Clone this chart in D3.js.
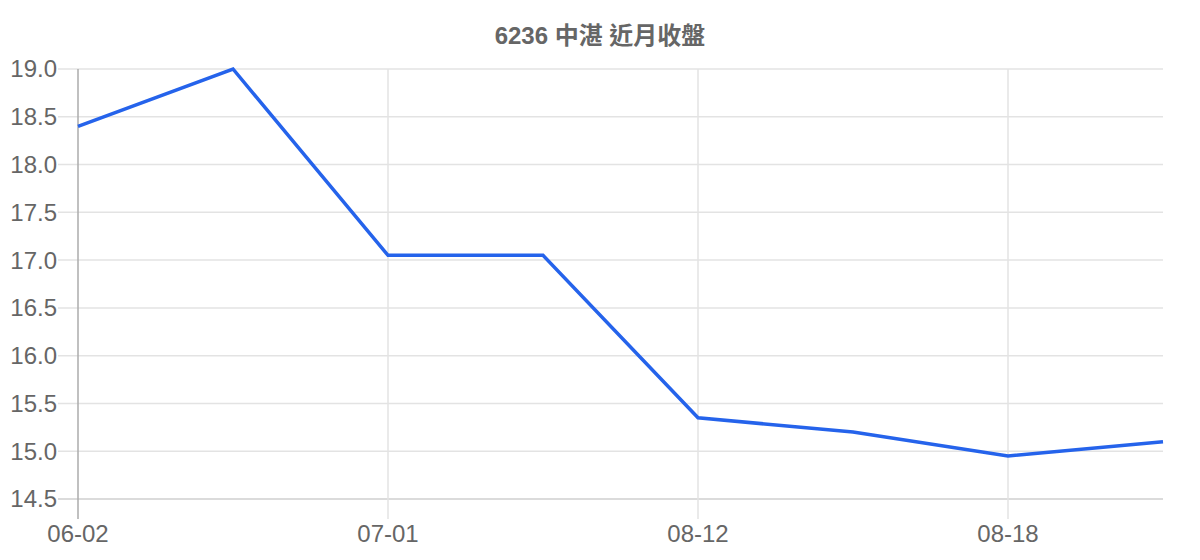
<!DOCTYPE html>
<html>
<head>
<meta charset="utf-8">
<script src="https://cdn.jsdelivr.net/npm/d3@7"></script>
<style>
  body { margin: 0; background: #fff; }
  text { font-family: "Liberation Sans", Arial, "Noto Sans CJK TC", sans-serif; }
</style>
</head>
<body>
<div id="content"></div>
<script>
const width = 1200;
const height = 560;

const title = "6236 中湛 近月收盤";
// 8 trading days; only every other label fits so the rest are skipped
const dates = ["06-02", "06-16", "07-01", "07-15", "08-12", "08-14", "08-18", "08-20"];
const closes = [18.4, 19.0, 17.05, 17.05, 15.35, 15.2, 14.95, 15.1];
const yTicks = [14.5, 15.0, 15.5, 16.0, 16.5, 17.0, 17.5, 18.0, 18.5, 19.0];

const margin = {top: 69, right: 37, bottom: 61, left: 78};
const gridColor = "#e3e3e3";
const textColor = "#666";
const lineColor = "#2563eb";
const fontSize = 24;

var svg = d3.select("#content").append("svg")
    .attr("width", width)
    .attr("height", height);

var x = d3.scalePoint().domain(dates).range([margin.left, width - margin.right]);
var y = d3.scaleLinear().domain([14.5, 19.0]).range([height - margin.bottom, margin.top]);

var shown = dates.filter((d, i) => i % 2 == 0);

// horizontal grid + tick marks
svg.append("g").selectAll("line")
    .data(yTicks).join("line")
    .attr("x1", margin.left - 20)
    .attr("x2", width - margin.right)
    .attr("y1", d => y(d)).attr("y2", d => y(d))
    .attr("stroke", (d, i) => i == 0 ? "#cfcfcf" : gridColor)
    .attr("stroke-width", 1.5);

// vertical grid for shown labels
svg.append("g").selectAll("line")
    .data(shown).join("line")
    .attr("x1", d => x(d)).attr("x2", d => x(d))
    .attr("y1", margin.top)
    .attr("y2", height - margin.bottom + 20)
    .attr("stroke", (d, i) => i == 0 ? "#ababab" : gridColor)
    .attr("stroke-width", 1.5);

// y labels
svg.append("g").selectAll("text")
    .data(yTicks).join("text")
    .attr("x", margin.left - 21)
    .attr("y", d => y(d))
    .attr("dy", "0.35em")
    .attr("text-anchor", "end")
    .attr("font-size", fontSize)
    .attr("fill", textColor)
    .text(d => d.toFixed(1));

// x labels
svg.append("g").selectAll("text")
    .data(shown).join("text")
    .attr("x", d => x(d))
    .attr("y", height - margin.bottom + 43)
    .attr("text-anchor", "middle")
    .attr("font-size", fontSize)
    .attr("fill", textColor)
    .text(d => d);

// the line
var line = d3.line()
    .x((d, i) => x(dates[i]))
    .y(d => y(d));

svg.append("path")
    .datum(closes)
    .attr("d", line)
    .attr("fill", "none")
    .attr("stroke", lineColor)
    .attr("stroke-width", 3.5)
    .attr("stroke-linejoin", "miter");

svg.append("text")
    .attr("x", width / 2)
    .attr("y", 44)
    .attr("text-anchor", "middle")
    .attr("font-size", fontSize)
    .attr("font-weight", "bold")
    .attr("fill", textColor)
    .text(title);
</script>
</body>
</html>
